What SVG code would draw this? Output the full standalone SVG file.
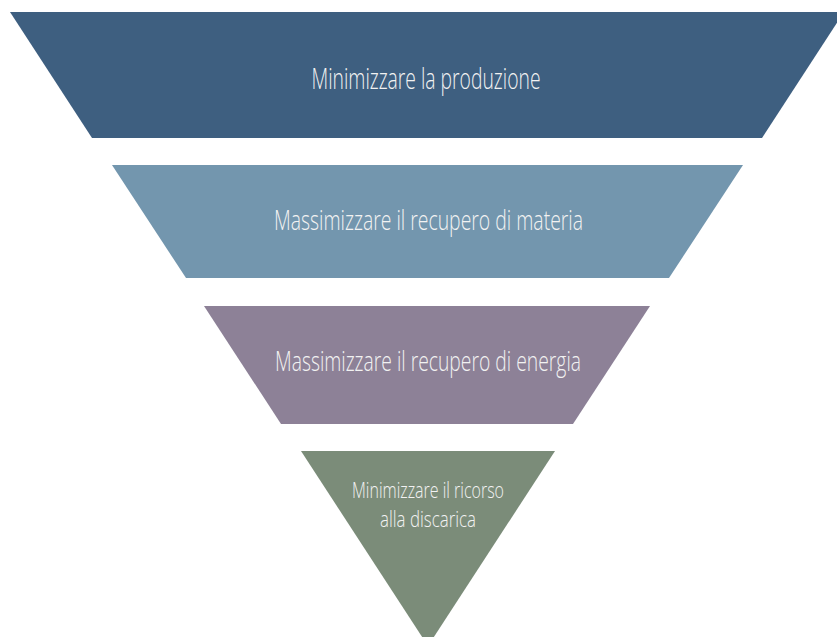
<svg xmlns="http://www.w3.org/2000/svg" width="837" height="637" viewBox="0 0 837 637">
<style>
  .lbl { font-family: "Open Sans", "Liberation Sans", sans-serif; font-weight: 300; fill: #f2f2f2; text-anchor: middle; }
</style>
<rect width="837" height="637" fill="#ffffff"/>
<g id="level1">
  <polygon points="10,12 844,12 762,138 92,138" fill="#3E5F80"/>
  <text class="lbl" x="426" y="89" font-size="29" textLength="229" lengthAdjust="spacingAndGlyphs">Minimizzare la produzione</text>
</g>
<g id="level2">
  <polygon points="112,165 743,165 669,278 186,278" fill="#7396AE"/>
  <text class="lbl" x="428.5" y="229.5" font-size="28" textLength="309" lengthAdjust="spacingAndGlyphs">Massimizzare il recupero di materia</text>
</g>
<g id="level3">
  <polygon points="204,306 650,306 573,424 281,424" fill="#8D8197"/>
  <text class="lbl" x="428" y="370.5" font-size="28" textLength="306" lengthAdjust="spacingAndGlyphs">Massimizzare il recupero di energia</text>
</g>
<g id="level4">
  <polygon points="301,451 555,451 428,646" fill="#7B8C79"/>
  <text class="lbl" x="428" y="498" font-size="21.5" textLength="152" lengthAdjust="spacingAndGlyphs">Minimizzare il ricorso</text>
  <text class="lbl" x="428" y="526.5" font-size="21.5" textLength="96" lengthAdjust="spacingAndGlyphs">alla discarica</text>
</g>
<g id="connectors"></g>
</svg>
